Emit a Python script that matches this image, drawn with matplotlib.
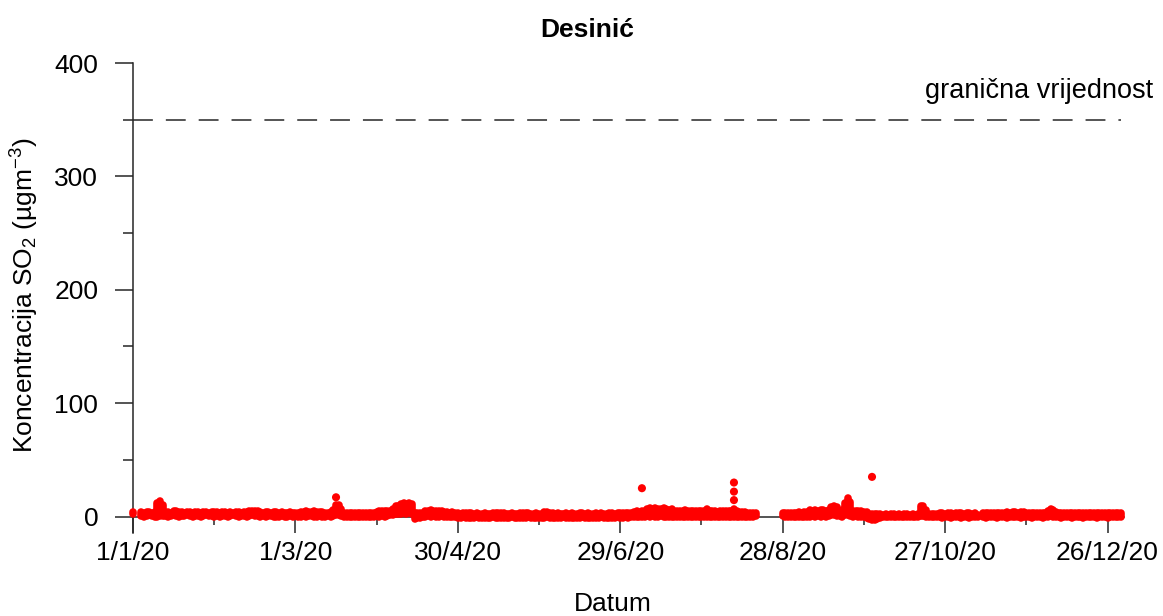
import numpy as np
import matplotlib.pyplot as plt

plt.rcParams['font.family'] = ['Liberation Sans', 'DejaVu Sans']
plt.rcParams['mathtext.fontset'] = 'custom'
plt.rcParams['mathtext.rm'] = 'Liberation Sans'
plt.rcParams['mathtext.it'] = 'Liberation Sans:italic'
plt.rcParams['mathtext.bf'] = 'Liberation Sans:bold'

station = 'Desinić'
limit_value = 350
limit_label = 'granična vrijednost'

# daily spread of the hourly SO2 values (ugm-3), 1/1/2020 .. 31/12/2020, None = no data
N = None
band_hi = [
    4, N, N, 4, 3.5, 4, 4, 3.5, 4, 12, 14, 10, 4, 4, 3.5, 5, 5, 4, 4, 3.5, 4, 4, 3.5, 4, 4, 3.5, 4, 4, 3.5, 4, 4,  # jan
    4, 3.5, 4, 4, 3.5, 4, 3.5, 4, 4, 3.5, 4, 4, 4.5, 5, 5, 4.5, 4, 3.5, 4, 4, 3.5, 4, 4, 3.5, 4, 3.5, 3.5, 4, 3.5,  # feb
    3.5, 3.5, 4, 4, 4.5, 4, 4, 4.5, 4, 4, 4, 3.5, 3.5, 4, 6, 10, 10, 7, 3.5, 3, 3, 3, 3.5, 3, 3, 3, 3.5, 3, 3, 3.5, 4,  # mar
    5, 5, 4.5, 5, 4.5, 7, 9, 9, 11, 12, 11, 12, 11, 3, 3, 3.5, 3.5, 5, 5, 5.5, 5, 5, 4.5, 5, 4, 4, 3.5, 4, 3.5, 3.5,  # apr
    2.5, 3.5, 3.5, 3, 3.5, 2.5, 3, 2.5, 2.5, 3, 2.5, 2.5, 3, 3, 3.5, 3.5, 3.5, 2.5, 2.5, 3, 2.5, 2.5, 3, 3.5, 3.5, 3, 2.5, 2.5, 3, 2.5, 2.5,  # may
    4, 4, 3.5, 3, 2.5, 3, 2.5, 2.5, 3, 2.5, 3, 2.5, 2.5, 3, 3, 2.5, 3, 2.5, 2.5, 3, 2.5, 3, 2.5, 2.5, 3, 3, 2.5, 3, 3, 3,  # jun
    3, 3, 3.5, 4, 4.5, 4, 5, 5, 7, 7.5, 6.5, 7.5, 7, 6.5, 7.5, 7, 6, 6.5, 5, 5, 4.5, 5, 5.5, 5, 4.5, 5, 4.5, 5, 4.5, 5, 7,  # jul
    5, 4.5, 5, 4, 4.5, 5, 4.5, 4.5, 5, 7, 4.5, 4, 4, 4, 3.5, 3.5, 3, 3, N, N, N, N, N, N, N, N, N, 3.5, 3.5, 3, 3.5,  # aug
    3.5, 3.5, 4, 3.5, 4, 4, 5.5, 5, 5.5, 5, 6, 5.5, 5, 6, 8, 9, 8, 5, 5.5, 12, 16, 13, 5, 5, 4.5, 5, 4, 4, 2.5, 2,  # sep
    2, 2, 2, 1.5, 2, 1.5, 2, 2, 1.5, 2, 1.5, 2, 2, 1.5, 2, 1.5, 2, 9, 9.5, 6, 2, 2, 2.5, 2.5, 3, 3, 2.5, 3, 3, 2.5, 3,  # oct
    3, 3, 2.5, 3, 3, 2.5, 3, 1.5, N, 3, 3, 3.5, 3, 3, 3, 3.5, 3, 3, 4, 3.5, 4, 4, 3.5, 4, 4, 3.5, 3, 3, 3, 3,  # nov
    3, 3, 3.5, 5, 7, 6, 4, 3, 3, 3.5, 3, 3, 3, 3.5, 3, 3, 3, 3.5, 3, 3, 3, 3.5, 3, 3, 3, 3.5, 3, 3, 3.5, 3.5, 3,  # dec
]
band_lo = [
    2, N, N, 0.5, 0, 0.5, 1, 0.5, 0, 0, 0.5, 0.5, 0.5, 0, 0.5, 1, 0.5, 0, 0.5, 0.5, 1, 0.5, 0, 0.5, 0.5, 0, 0.5, 1, 0.5, 0.5, 0,  # jan
    0.5, 0, 0.5, 0.5, 0, 0.5, 1, 0.5, 0, 0.5, 0.5, 0, 0.5, 1, 0.5, 0.5, 0, 0.5, 0, 0.5, 0.5, 0, -0.5, 0, 0.5, 0, 0, 0.5, 0,  # feb
    0.5, 0, 0, 0.5, 0, 0.5, 0.5, 0, 0, 0.5, 0, 0, 0.5, 0, 0.5, 1, 1, 0.5, 0, -0.5, 0, 0, -0.5, 0, 0, -0.5, 0, 0, -0.5, 0, 0.5,  # mar
    0, 0.5, 0, 0.5, 1, 1, 2, 2, 2, 3, 2, 3, 2, -2, -1.5, -1, -0.5, 0, 0.5, 0, 0.5, 0, 0, 0.5, 0, -0.5, 0, -0.5, -0.5, -1,  # apr
    -1, -0.5, -1, -1, -1.5, -1, -0.5, -1, -1, -1.5, -1, -1, -0.5, -1, -1, -1, -1.5, -1, -1, -0.5, -1, -1, -1, -1.5, -1, -0.5, -1, -1, -1, -1.5, -1,  # may
    -1, -0.5, -1, -1, -1.5, -1, -1, -0.5, -1, -1, -1.5, -1, -1, -1, -0.5, -1, -1, -1.5, -1, -1, -1, -0.5, -1, -1, -1, -1.5, -1, -0.5, -1, -1,  # jun
    -0.5, -1, -0.5, 0, -0.5, 0, 0, -0.5, 0.5, 0, 0.5, 0, 0, 0.5, 0, -0.5, 0, 0, -0.5, 0, 0, -0.5, 0, 0, -0.5, 0, 0, -0.5, 0, 0, 0,  # jul
    0, -0.5, 0, 0, -0.5, 0, 0, -0.5, 0, 0, 0, -0.5, 0, 0, -0.5, 0, 0, 0.5, N, N, N, N, N, N, N, N, N, 0.5, 0, -0.5, 0,  # aug
    0, -0.5, 0, 0, -0.5, 0, 0, 0.5, 0, 0.5, 0, 0.5, 0, 0.5, 1, 1, 0.5, 0.5, 0, 1, 1, 0.5, 0, 0.5, 0, 0, -0.5, -1, -2, -3,  # sep
    -3, -2.5, -1, 0, 0, -0.5, 0, 0, 0, -0.5, 0, 0, 0, 0, -0.5, 0, 0, 0.5, 0.5, 0, 0, -0.5, 0, -0.5, -0.5, -1, -0.5, -0.5, -1, -0.5, -0.5,  # oct
    -0.5, -1, -0.5, -0.5, -1, -0.5, -0.5, 0, N, -0.5, -1, -0.5, -0.5, -0.5, -1, -0.5, -0.5, -0.5, -1, -0.5, -0.5, -0.5, -0.5, -1, -0.5, -0.5, -0.5, -1, -0.5, -0.5,  # nov
    -0.5, -1, -0.5, 0, 0.5, 0, -0.5, -0.5, -1, -0.5, -0.5, -0.5, -1, -0.5, -0.5, -0.5, -1, -0.5, -0.5, -0.5, -0.5, -1, -0.5, -0.5, -0.5, -1, -0.5, -0.5, -0.5, -0.5, 0,  # dec
]

# single hours standing out of the band (day of year, value)
spike_day = [75, 188, 222, 222, 222, 273]
spike_val = [17, 25, 30, 22, 14.5, 35]

tick_labels = ['1/1/20', '1/3/20', '30/4/20', '29/6/20', '28/8/20', '27/10/20', '26/12/20']

hi = np.array(band_hi, dtype=float)
lo = np.array(band_lo, dtype=float)
assert len(hi) == 366 and len(lo) == 366
days = np.arange(len(hi))
ok = ~np.isnan(hi)

axcol = '#262626'

fig = plt.figure(figsize=(11.63, 6.16), dpi=100)
ax = fig.add_axes([133/1163, 83/616, (1140-133)/1163, 470/616])

ax.vlines(days[ok], lo[ok], hi[ok], colors='red', linewidth=5.5,
          capstyle='round', clip_on=False, zorder=3)
ax.scatter(spike_day, spike_val, s=34, color='red', edgecolors='none',
           clip_on=False, zorder=3)

ax.plot([days[0], days[-1]], [limit_value, limit_value], color=axcol, lw=1.1,
        linestyle=(0, (13, 8.5)))

ax.set_xlim(0, 372)
ax.set_ylim(-14.5, 400)

ax.spines['top'].set_visible(False)
ax.spines['right'].set_visible(False)
ax.spines['bottom'].set_position(('data', 0))
ax.spines['bottom'].set_bounds(0, 366)
for s in ['left', 'bottom']:
    ax.spines[s].set_color(axcol)
    ax.spines[s].set_linewidth(1.1)

ax.set_xticks(np.arange(0, 361, 60))
ax.set_xticklabels(tick_labels)
ax.set_xticks(np.arange(30, 361, 60), minor=True)
ax.set_yticks([0, 100, 200, 300, 400])
ax.set_yticks([50, 150, 250, 350], minor=True)

ax.tick_params(axis='x', which='major', direction='out', length=11.5, width=1.1,
               color=axcol, labelsize=19, pad=6)
ax.tick_params(axis='x', which='minor', direction='out', length=6, width=1.1, color=axcol)
ax.tick_params(axis='y', which='major', direction='out', length=13, width=1.1,
               color=axcol, labelsize=19, pad=12)
ax.tick_params(axis='y', which='minor', direction='out', length=7, width=1.1, color=axcol)

fig.text(587/1163, 1 - 37/616, station, ha='center', va='baseline',
         fontsize=19, fontweight='bold')
fig.text(1153/1163, 1 - 98/616, limit_label, ha='right', va='baseline', fontsize=19.5)
fig.text(613/1163, 1 - 611/616, 'Datum', ha='center', va='baseline', fontsize=19)
fig.text(25/1163, 1 - 295/616, 'Koncentracija SO$_2$ (µgm$^{-3}$)', rotation=90,
         ha='center', va='center', fontsize=19)

fig.savefig('out.png', dpi=100)
